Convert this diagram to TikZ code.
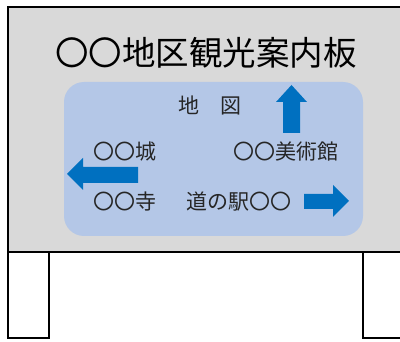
\documentclass[tikz,border=0pt]{standalone}
\usepackage{fontspec}
\setmainfont{Noto Sans CJK JP}
\definecolor{boardgray}{HTML}{D9D9D9}
\definecolor{mapblue}{HTML}{B4C7E7}
\definecolor{arrowblue}{HTML}{0070C0}
\tikzset{
  frame/.style={draw=black, line width=2pt},
  lbl/.style={inner sep=0pt, font=\fontsize{21}{21}\selectfont, text=black!85},
  arr/.style={fill=arrowblue, draw=none},
}
\begin{document}
\begin{tikzpicture}[x=1pt,y=-1pt]
\useasboundingbox (0,0) rectangle (400,342);
\begin{scope}
\clip (0,0) rectangle (400,342);
% board
\draw[frame, fill=boardgray] (8,7) rectangle (410,252);
% legs
\draw[frame, fill=white] (8,252) rectangle (49,338);
\draw[frame, fill=white] (363,252) rectangle (410,338);
\end{scope}
% map
\fill[mapblue, rounded corners=20pt] (64,82) rectangle (363,236);
% title
\node[inner sep=0pt, font=\fontsize{33.5}{33.5}\selectfont] (title) at (206,53) {〇〇地区観光案内板};
% labels
\node[lbl] (chizu) at (210,105) {地　図};
\node[lbl] (shiro) at (125,152) {〇〇城};
\node[lbl] (bijutsu) at (286,152) {〇〇美術館};
\node[lbl] (tera) at (125,202) {〇〇寺};
\node[lbl] (michi) at (239,202) {道の駅〇〇};
% arrows
\path[arr] (283,133) -- (283,102) -- (276,102) -- (291.5,85) -- (307,102) -- (300,102) -- (300,133) -- cycle;
\path[arr] (138,167) -- (83,167) -- (83,158) -- (67,174) -- (83,190) -- (83,183) -- (138,183) -- cycle;
\path[arr] (304,194) -- (333,194) -- (333,185) -- (349,201) -- (333,217) -- (333,209) -- (304,209) -- cycle;
\end{tikzpicture}
\end{document}
